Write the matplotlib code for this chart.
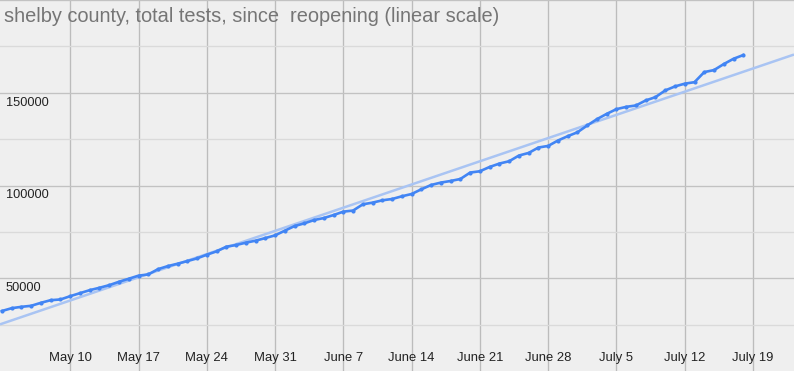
import numpy as np
import matplotlib
matplotlib.use("Agg")
import matplotlib.pyplot as plt
import matplotlib.dates as mdates
import matplotlib.transforms as mtransforms

plt.rcParams['font.family'] = ['Liberation Sans', 'DejaVu Sans']

title = "shelby county, total tests, since  reopening (linear scale)"
start_date = "2020-05-03"
end_date = "2020-07-18"
total_tests = [
    32350, 33860, 34600, 35150, 36770, 38180, 38560, 40340, 41960, 43580,
    44870, 46280, 48110, 49730, 51400, 52060, 54900, 56540, 57830, 59240,
    60700, 62690, 64480, 67010, 67900, 69170, 70250, 71660, 73120,
    75650, 78140, 79600, 81380, 82460, 84080, 85910, 86500, 89860, 90770,
    92020, 92720, 94180, 95420, 97960, 100280, 101570, 102440, 103520, 106970,
    107680, 110000, 111830, 113080, 116150, 117560, 120470, 121340, 124250, 126580,
    128700, 132350, 135760, 138620, 141160, 142400, 143150, 145850, 147640, 151250,
    153410, 154900, 155700, 161140, 162220, 165460, 168320, 170320,
]
x_tick_dates = ["2020-05-10", "2020-05-17", "2020-05-24", "2020-05-31", "2020-06-07",
                "2020-06-14", "2020-06-21", "2020-06-28", "2020-07-05", "2020-07-12",
                "2020-07-19"]
x_tick_labels = ["May 10", "May 17", "May 24", "May 31", "June 7", "June 14",
                 "June 21", "June 28", "July 5", "July 12", "July 19"]
y_major = [50000, 100000, 150000, 200000]
y_minor = [25000, 75000, 125000, 175000]
y_labels = ["50000", "100000", "150000"]

dates = np.arange(np.datetime64(start_date), np.datetime64(end_date) + 1)
xd = mdates.date2num(dates)

fig = plt.figure(figsize=(7.94, 3.71), dpi=100)
fig.patch.set_facecolor('#efefef')
ax = fig.add_axes([0, 0, 1, 1])
ax.set_facecolor('#efefef')
for s in ax.spines.values():
    s.set_visible(False)

x_left = xd[0] - 0.2
x_right = mdates.date2num(np.datetime64("2020-05-10")) + 74.2
ax.set_xlim(x_left, x_right)
ax.set_ylim(0, 200000)

# grid
for d in x_tick_dates:
    ax.axvline(mdates.date2num(np.datetime64(d)), color='#bcbcbc', lw=0.95, zorder=1)
for v in y_major:
    ax.axhline(v, color='#c2c2c2', lw=0.95, zorder=1)
for v in y_minor:
    ax.axhline(v, color='#dadada', lw=0.95, zorder=1)

# trendline (least squares)
coef = np.polyfit(xd, total_tests, 1)
tx = np.array([x_left, x_right])
ax.plot(tx, np.polyval(coef, tx), color='#a9c4f3', lw=1.8, zorder=2, solid_capstyle='butt')

ax.plot(xd, total_tests, color='#4285f4', lw=1.9, marker='o', markersize=3,
        markeredgewidth=0, zorder=3)

ax.set_xticks([])
ax.set_yticks([])

xt = ax.get_xaxis_transform()
for d, lab in zip(x_tick_dates, x_tick_labels):
    ax.text(mdates.date2num(np.datetime64(d)), 13.0 / 371, lab, transform=xt,
            ha='center', va='center', fontsize=9.4, color='#222222')

yt = mtransforms.offset_copy(ax.get_yaxis_transform(), fig=fig, x=0, y=-4, units='dots')
for v, lab in zip([50000, 100000, 150000], y_labels):
    ax.text(6 / 794, v, lab, transform=yt, ha='left', va='top',
            fontsize=9.2, color='#222222')

fig.text(4 / 794, 1 - 17 / 371, title, ha='left', va='center', fontsize=14.4,
         color='#757575')

fig.savefig('out.png', dpi=100, facecolor=fig.get_facecolor())
